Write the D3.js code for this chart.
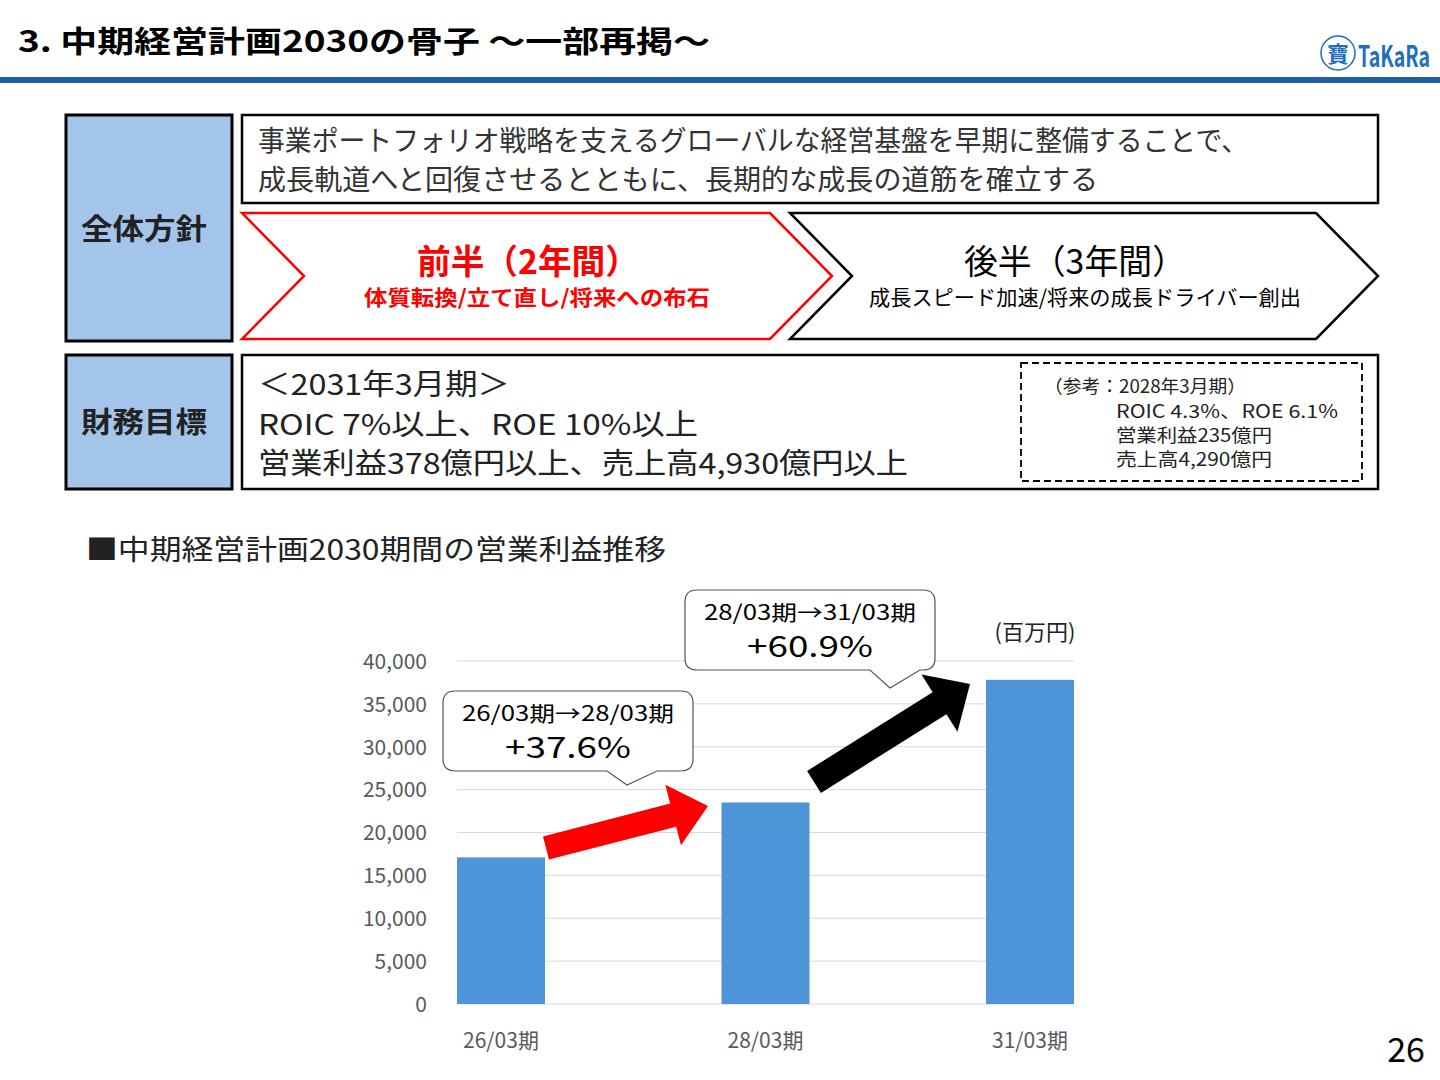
<!DOCTYPE html>
<html><head><meta charset="utf-8">
<script src="https://cdn.jsdelivr.net/npm/d3@7"></script>
<style>
body{margin:0;background:#fff;}
svg{font-family:"Noto Sans CJK JP","Noto Sans",sans-serif;}
</style></head>
<body><svg id="c" width="1440" height="1080"></svg>
<script>
const periods = ['26/03期', '28/03期', '31/03期'];
const opProfit = [17100, 23500, 37800];
const yTicks = [0, 5000, 10000, 15000, 20000, 25000, 30000, 35000, 40000];

const svg = d3.select('#c');
const t = (x, y, s, o = {}) => {
  const el = svg.append('text').attr('x', x).attr('y', y).text(s)
    .attr('font-size', o.size || 20).attr('fill', o.fill || '#000')
    .attr('font-weight', o.bold ? 'bold' : 'normal').attr('text-anchor', o.anchor || 'start');
  if (o.len) el.attr('textLength', o.len).attr('lengthAdjust', 'spacingAndGlyphs');
  return el;
};

// header
t(18, 52, '3. 中期経営計画2030の骨子 ～一部再掲～', { size: 30, bold: true, len: 692 });
svg.append('rect').attr('x', 0).attr('y', 77).attr('width', 1440).attr('height', 6).attr('fill', '#1f5fa8');
svg.append('circle').attr('cx', 1338).attr('cy', 53).attr('r', 17).attr('fill', 'none').attr('stroke', '#1f6fc0').attr('stroke-width', 1.5);
t(1338, 62, '寶', { size: 22, fill: '#1f6fc0', anchor: 'middle', bold: true });
t(1358, 67, 'TaKaRa', { size: 29, fill: '#1f6fc0', bold: true, len: 72 });

// left label boxes
const box = (x, y, w, h, fill, stroke, sw) => svg.append('rect').attr('x', x).attr('y', y).attr('width', w).attr('height', h)
  .attr('fill', fill).attr('stroke', stroke).attr('stroke-width', sw || 2.5);
box(66, 115, 166, 226, '#a4c5ea', '#000', 3);
box(66, 355, 166, 134, '#a4c5ea', '#000', 3);
t(144, 240, '全体方針', { size: 29, bold: true, anchor: 'middle', fill: '#222', len: 126 });
t(144, 433, '財務目標', { size: 29, bold: true, anchor: 'middle', fill: '#222', len: 126 });

box(242, 115, 1136, 88, '#fff', '#000');
t(258, 151, '事業ポートフォリオ戦略を支えるグローバルな経営基盤を早期に整備することで、', { size: 28, fill: '#333', len: 990 });
t(258, 190, '成長軌道へと回復させるとともに、長期的な成長の道筋を確立する', { size: 28, fill: '#333', len: 840 });

// chevrons
const chev = (x0, x1, tip, color) => svg.append('path')
  .attr('d', `M${x0},213 L${x1},213 L${x1 + tip},276 L${x1},339 L${x0},339 L${x0 + tip},276 Z`)
  .attr('fill', '#fff').attr('stroke', color).attr('stroke-width', 2.5);
chev(242, 770, 62, '#ff0000');
chev(790, 1316, 62, '#000');
t(528, 274, '前半（2年間）', { size: 34, bold: true, fill: '#ff0000', anchor: 'middle', len: 222 });
t(537, 305, '体質転換/立て直し/将来への布石', { size: 21, bold: true, fill: '#ff0000', anchor: 'middle', len: 346 });
t(1075, 274, '後半（3年間）', { size: 34, fill: '#000', anchor: 'middle', len: 222 });
t(1085, 305, '成長スピード加速/将来の成長ドライバー創出', { size: 21, fill: '#000', anchor: 'middle', len: 432 });

box(242, 355, 1136, 134, '#fff', '#000');
t(258, 395, '＜2031年3月期＞', { size: 29, fill: '#222', len: 252 });
t(258, 435, 'ROIC 7%以上、ROE 10%以上', { size: 29, fill: '#222', len: 440 });
t(258, 474, '営業利益378億円以上、売上高4,930億円以上', { size: 29, fill: '#222', len: 650 });
box(1021, 363, 341, 118, 'none', '#000', 1.8).attr('stroke-dasharray', '7,4');
t(1044, 393, '（参考：2028年3月期）', { size: 18, fill: '#222', len: 202 });
t(1116, 418, 'ROIC 4.3%、ROE 6.1%', { size: 18, fill: '#222', len: 222 });
t(1116, 442, '営業利益235億円', { size: 18, fill: '#222', len: 156 });
t(1116, 466, '売上高4,290億円', { size: 18, fill: '#222', len: 156 });

t(86, 560, '■中期経営計画2030期間の営業利益推移', { size: 28, fill: '#222', len: 580 });

// chart
const bx = d => 457 + periods.indexOf(d) * 264.5;
const y = d3.scaleLinear().domain([0, 40000]).range([1004, 661]);
const g = svg.append('g');
g.selectAll('line.grid').data(yTicks).join('line').attr('x1', 457).attr('x2', 1074)
  .attr('y1', d => y(d)).attr('y2', d => y(d)).attr('stroke', '#d9d9d9').attr('stroke-width', 1);
const yAxis = g.append('g').attr('transform', 'translate(430,0)')
  .call(d3.axisLeft(y).tickValues(yTicks).tickSize(0).tickFormat(d3.format(',')));
yAxis.select('.domain').remove();
yAxis.selectAll('text').attr('font-size', 21).attr('fill', '#595959').attr('font-family', '"Noto Sans CJK JP",sans-serif').attr('dy', '0.35em');
g.selectAll('rect.bar').data(opProfit).join('rect').attr('x', (d, i) => bx(periods[i])).attr('width', 88)
  .attr('y', d => y(d)).attr('height', d => y(0) - y(d)).attr('fill', '#4e94d9');
g.selectAll('text.xl').data(periods).join('text').attr('x', d => bx(d) + 44).attr('y', 1048)
  .attr('text-anchor', 'middle').attr('font-size', 21).attr('fill', '#595959').text(d => d);
t(1035, 640, '(百万円)', { size: 22, fill: '#222', anchor: 'middle' });

// arrows
const arrow = (x0, y0, x1, y1, color, w) => {
  const a = Math.atan2(y1 - y0, x1 - x0), len = Math.hypot(x1 - x0, y1 - y0), hl = 36, hw = w * 1.3;
  svg.append('path').attr('transform', `translate(${x0},${y0}) rotate(${a * 180 / Math.PI})`)
    .attr('d', `M0,${-w / 2} L${len - hl},${-w / 2} L${len - hl},${-hw} L${len},0 L${len - hl},${hw} L${len - hl},${w / 2} L0,${w / 2} Z`)
    .attr('fill', color);
};
arrow(546, 848, 708, 806, '#ff0000', 24);
arrow(814, 782, 970, 684, '#000', 26);

// callouts
const callout = (x0, y0, w, h, px, py, l1, l2) => {
  const r = 12, b = y0 + h;
  svg.append('path').attr('d', `M${x0 + r},${y0} H${x0 + w - r} Q${x0 + w},${y0} ${x0 + w},${y0 + r} V${b - r} Q${x0 + w},${b} ${x0 + w - r},${b}
    H${px + 30} L${px},${py} L${px - 20},${b} H${x0 + r} Q${x0},${b} ${x0},${b - r} V${y0 + r} Q${x0},${y0} ${x0 + r},${y0} Z`)
    .attr('fill', '#fff').attr('stroke', '#555').attr('stroke-width', 1.2);
  t(x0 + w / 2, y0 + 30, l1, { size: 21, anchor: 'middle', len: 212 });
  t(x0 + w / 2, y0 + 67, l2, { size: 29, anchor: 'middle', len: 126 });
};
callout(443, 691, 250, 80, 627, 785, '26/03期→28/03期', '+37.6%');
callout(685, 590, 250, 80, 890, 688, '28/03期→31/03期', '+60.9%');

t(1425, 1062, '26', { size: 34, anchor: 'end' });
</script></body></html>
